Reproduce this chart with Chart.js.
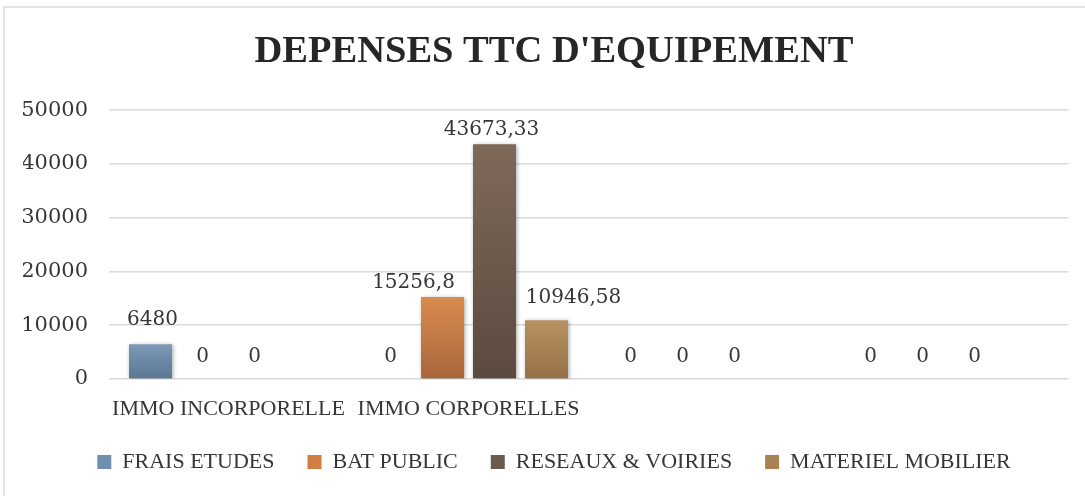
<!DOCTYPE html>
<html>
<head>
<meta charset="utf-8">
<script src="https://cdn.jsdelivr.net/npm/chart.js@4/dist/chart.umd.min.js"></script>
<style>
  html, body { margin: 0; padding: 0; background: #ffffff; }
  #wrap { position: relative; width: 1085px; height: 496px; overflow: hidden; background: #ffffff; }
  #frame { position: absolute; left: 3px; top: 6px; width: 1100px; height: 520px;
           border-left: 2px solid #e3e3e3; border-top: 2px solid #e3e3e3; box-sizing: border-box; }
  #c { position: absolute; left: 0; top: 0; }
</style>
</head>
<body>
<div id="wrap">
  <div id="frame"></div>
  <canvas id="c" width="1085" height="496"></canvas>
</div>
<script>
// ---- data ----
const categories = ['IMMO INCORPORELLE', 'IMMO CORPORELLES', '', ''];
const seriesNames = ['FRAIS ETUDES', 'BAT PUBLIC', 'RESEAUX & VOIRIES', 'MATERIEL MOBILIER'];
const fraisEtudes = [6480, 0, 0, 0];
const batPublic = [0, 15256.8, 0, 0];
const reseauxVoiries = [0, 43673.33, 0, 0];
const materielMobilier = [null, 10946.58, null, null];
const yTicks = [0, 10000, 20000, 30000, 40000, 50000];

// ---- styles ----
const gradients = [
  ['#7b9bb8', '#5a7692', '#6f8fac'],
  ['#da8c4e', '#a8653a', '#d07e44'],
  ['#7f6959', '#5b4a40', '#6b5a4e'],
  ['#b9915f', '#967147', '#a98253']
];
const NUM_FONT = 'DejaVu Serif';
const TXT_FONT = 'Liberation Serif';
const TEXT_COLOR = '#363636';

function barFill(i) {
  return function (ctx) {
    const chart = ctx.chart;
    const area = chart.chartArea;
    if (!area || ctx.type !== 'data' || ctx.raw == null) return gradients[i][2];
    const y = chart.scales.y;
    const top = y.getPixelForValue(ctx.raw);
    const bottom = y.getPixelForValue(0);
    if (!isFinite(top) || Math.abs(bottom - top) < 1) return gradients[i][1];
    const g = chart.ctx.createLinearGradient(0, top, 0, bottom);
    g.addColorStop(0, gradients[i][0]);
    g.addColorStop(1, gradients[i][1]);
    return g;
  };
}

// label nudges (dataset index-data index) -> pixel shift, as placed in the reference
const labelNudges = { '0-0': [2, -2], '1-1': [-29, 8], '2-1': [-3, 8], '3-1': [27, 0] };

const shadowPlugin = {
  id: 'barShadow',
  beforeDatasetsDraw(chart) {
    const c = chart.ctx;
    c.save();
    c.shadowColor = 'rgba(0,0,0,0.35)';
    c.shadowBlur = 4;
    c.shadowOffsetX = 1;
    c.shadowOffsetY = 1;
  },
  afterDatasetsDraw(chart) {
    chart.ctx.restore();
  }
};

const labelPlugin = {
  id: 'valueLabels',
  afterDatasetsDraw(chart) {
    const c = chart.ctx;
    c.save();
    c.font = '20px "' + NUM_FONT + '"';
    c.fillStyle = TEXT_COLOR;
    c.textAlign = 'center';
    c.textBaseline = 'alphabetic';
    chart.data.datasets.forEach((ds, di) => {
      const meta = chart.getDatasetMeta(di);
      meta.data.forEach((el, i) => {
        const v = ds.data[i];
        if (v == null) return;
        const nudge = labelNudges[di + '-' + i] || [0, 0];
        const txt = String(v).replace('.', ',');
        c.fillText(txt, el.x + nudge[0], el.y - 17 + nudge[1]);
      });
    });
    c.restore();
  }
};

const seriesData = [fraisEtudes, batPublic, reseauxVoiries, materielMobilier];

new Chart(document.getElementById('c'), {
  type: 'bar',
  data: {
    labels: categories,
    datasets: seriesNames.map((name, i) => ({
      label: name,
      data: seriesData[i],
      backgroundColor: barFill(i),
      borderWidth: 0,
      categoryPercentage: 0.8667,
      barPercentage: 0.827
    }))
  },
  options: {
    responsive: false,
    animation: false,
    devicePixelRatio: 1,
    layout: { padding: { left: 23, right: 0, top: 0, bottom: 13 } },
    plugins: {
      title: {
        display: true,
        text: "DEPENSES TTC D'EQUIPEMENT",
        color: '#262626',
        font: { family: TXT_FONT, size: 38.5, weight: 'bold' },
        padding: { top: 29, bottom: 35 }
      },
      legend: {
        position: 'bottom',
        labels: {
          color: TEXT_COLOR,
          font: { family: TXT_FONT, size: 22 },
          boxWidth: 14,
          boxHeight: 14,
          padding: 33,
          generateLabels(chart) {
            return chart.data.datasets.map((ds, i) => ({
              text: ds.label,
              fillStyle: gradients[i][2],
              strokeStyle: gradients[i][2],
              lineWidth: 0,
              hidden: false,
              datasetIndex: i,
              fontColor: TEXT_COLOR
            }));
          }
        }
      },
      tooltip: { enabled: false }
    },
    scales: {
      x: {
        grid: { display: false, drawTicks: false },
        border: { display: false },
        ticks: {
          color: TEXT_COLOR,
          font: { family: TXT_FONT, size: 22 },
          maxRotation: 0,
          autoSkip: false,
          padding: 17.5
        },
        afterFit(scale) { scale.height = 39; }
      },
      y: {
        min: 0,
        max: 50000,
        afterBuildTicks(scale) { scale.ticks = yTicks.map(v => ({ value: v })); },
        grid: { color: '#d9d9d9', lineWidth: 1.5, drawTicks: false },
        border: { display: false },
        ticks: {
          color: TEXT_COLOR,
          font: { family: NUM_FONT, size: 21 },
          padding: 20.5,
          callback: v => String(v)
        },
        afterFit(scale) { scale.width = 85.5; }
      },
      yRight: {
        position: 'right',
        display: true,
        min: 0,
        max: 50000,
        grid: { display: false, drawTicks: false },
        border: { display: false },
        ticks: { display: false },
        afterFit(scale) { scale.width = 16.5; }
      }
    }
  },
  plugins: [shadowPlugin, labelPlugin]
});
</script>
</body>
</html>
